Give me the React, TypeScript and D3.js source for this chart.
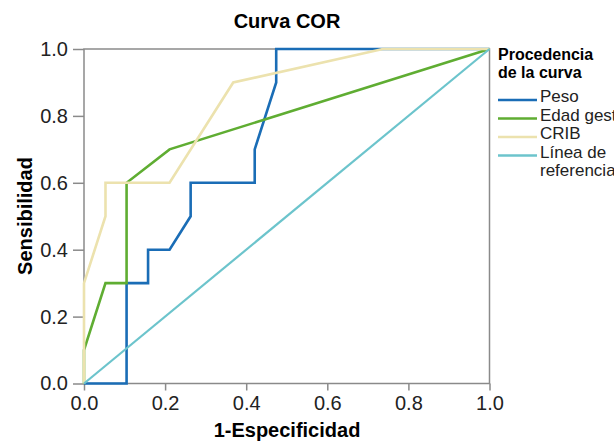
import { useEffect, useRef } from 'react';
import * as d3 from 'd3';

// ROC curves (x = 1-especificidad, y = sensibilidad)
const pesoX = [0, 0.105, 0.105, 0.158, 0.158, 0.211, 0.263, 0.263, 0.421, 0.421, 0.474, 0.474, 1];
const pesoY = [0, 0, 0.3, 0.3, 0.4, 0.4, 0.5, 0.6, 0.6, 0.7, 0.9, 1, 1];
const edadX = [0, 0, 0.053, 0.105, 0.105, 0.211, 1];
const edadY = [0, 0.1, 0.3, 0.3, 0.6, 0.7, 1];
const cribX = [0, 0, 0.053, 0.053, 0.211, 0.368, 0.737, 1];
const cribY = [0, 0.3, 0.5, 0.6, 0.6, 0.9, 1, 1];
const refX = [0, 1];
const refY = [0, 1];

const seriesNames = ['Peso', 'Edad gest', 'CRIB', 'Línea de referencia'];
const seriesColors = ['#1a6db6', '#5fad32', '#ece2ae', '#6cc4cc'];
const ticks = [0, 0.2, 0.4, 0.6, 0.8, 1.0];

const FONT = '"Liberation Sans", Arial, sans-serif';

const App = () => {
  const svgRef = useRef(null);

  useEffect(() => {
    const svg = d3.select(svgRef.current);
    svg.selectAll('*').remove();

    const x = d3.scaleLinear().domain([0, 1]).range([84, 489.5]);
    const y = d3.scaleLinear().domain([0, 1]).range([383.5, 49]);

    // title
    svg.append('text')
      .attr('x', 287).attr('y', 28)
      .attr('text-anchor', 'middle')
      .style('font-family', FONT).style('font-weight', 'bold').style('font-size', '20px')
      .text('Curva COR');

    // frame
    svg.append('rect')
      .attr('x', x(0)).attr('y', y(1))
      .attr('width', x(1) - x(0)).attr('height', y(0) - y(1))
      .attr('fill', 'none').attr('stroke', '#8a8a8a').attr('stroke-width', 1.5);

    const xAxis = svg.append('g')
      .attr('transform', `translate(0,${y(0)})`)
      .call(d3.axisBottom(x).tickValues(ticks).tickFormat(d3.format('.1f')).tickSize(7).tickSizeOuter(0));
    const yAxis = svg.append('g')
      .attr('transform', `translate(${x(0)},0)`)
      .call(d3.axisLeft(y).tickValues(ticks).tickFormat(d3.format('.1f')).tickSize(11).tickSizeOuter(0));

    [xAxis, yAxis].forEach(a => {
      a.select('.domain').remove();
      a.selectAll('line').attr('stroke', '#8a8a8a').attr('stroke-width', 1.5);
      a.selectAll('text')
        .attr('fill', '#222')
        .style('font-family', FONT).style('font-size', '20px');
    });
    xAxis.selectAll('text').attr('dy', '0.9em').attr('y', 8);
    yAxis.selectAll('text').attr('x', -16);

    // axis titles
    svg.append('text')
      .attr('x', 287).attr('y', 437)
      .attr('text-anchor', 'middle')
      .style('font-family', FONT).style('font-weight', 'bold').style('font-size', '20px')
      .text('1-Especificidad');
    svg.append('text')
      .attr('transform', 'translate(32,216) rotate(-90)')
      .attr('text-anchor', 'middle')
      .style('font-family', FONT).style('font-weight', 'bold').style('font-size', '20px')
      .text('Sensibilidad');

    // curves
    const line = d3.line().x(d => x(d[0])).y(d => y(d[1]));
    const series = [
      d3.zip(pesoX, pesoY),
      d3.zip(edadX, edadY),
      d3.zip(cribX, cribY),
      d3.zip(refX, refY)
    ];
    series.forEach((pts, i) => {
      svg.append('path')
        .attr('d', line(pts))
        .attr('fill', 'none')
        .attr('stroke', seriesColors[i])
        .attr('stroke-width', i === 3 ? 2.2 : 2.6)
        .attr('stroke-linejoin', 'miter');
    });

    // legend
    const lg = svg.append('g').attr('transform', 'translate(498,0)');
    lg.append('text')
      .attr('y', 60)
      .style('font-family', FONT).style('font-weight', 'bold').style('font-size', '16px')
      .selectAll('tspan')
      .data(['Procedencia', 'de la curva'])
      .enter().append('tspan')
      .attr('x', 0).attr('dy', (d, i) => i === 0 ? 0 : 18)
      .text(d => d);

    seriesNames.forEach((name, i) => {
      const cy = 100 + i * 18.5;
      lg.append('line')
        .attr('x1', 0).attr('x2', 39)
        .attr('y1', cy).attr('y2', cy)
        .attr('stroke', seriesColors[i]).attr('stroke-width', 2.6);
      const words = i === 3 ? ['Línea de', 'referencia'] : [name];
      lg.append('text')
        .attr('y', cy + 2)
        .attr('fill', '#222')
        .style('font-family', FONT).style('font-size', '17px')
        .selectAll('tspan')
        .data(words)
        .enter().append('tspan')
        .attr('x', 42).attr('dy', (d, j) => j === 0 ? 0 : 18.5)
        .text(d => d);
    });
  }, []);

  return (
    <div style={{ position: 'absolute', left: 0, top: 0 }}>
      <svg ref={svgRef} width={614} height={441} style={{ display: 'block' }} />
    </div>
  );
};

export default App;
